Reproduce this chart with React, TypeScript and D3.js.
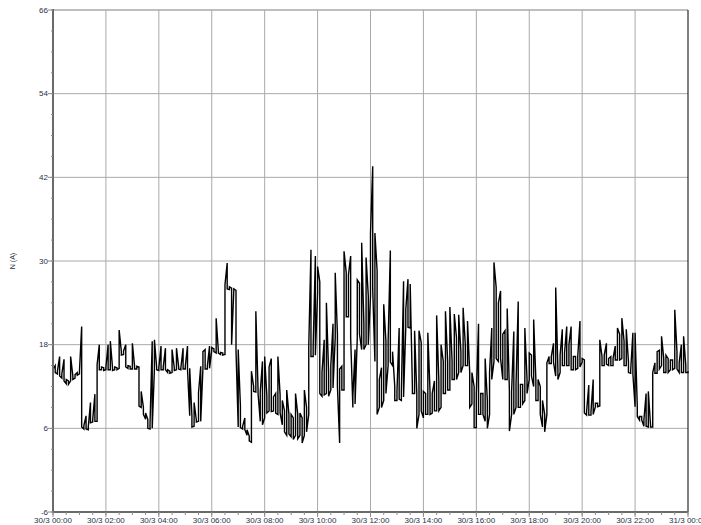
import React from "react";
import * as d3 from "d3";

// N (A): [min, max] read in each 5-minute window, 30/3 00:00 -> 31/3 00:00
const hours00to06: [number, number][] = [
  [13.9, 14.5], [14.0, 15.0], [13.8, 14.2], [13.5, 16.3], [13.2, 13.8], [12.8, 15.9], [12.4, 13.0], [12.3, 12.8], [12.8, 16.3], [13.0, 13.5], [13.2, 13.7], [13.6, 14.0],
  [13.8, 14.2], [6.2, 20.6], [5.9, 6.4], [5.9, 7.8], [5.8, 6.2], [6.8, 9.7], [6.9, 7.2], [7.0, 10.9], [7.0, 15.1], [14.4, 18.0], [14.4, 14.8], [14.3, 14.7],
  [14.4, 14.8], [14.4, 18.0], [14.4, 18.5], [14.3, 14.7], [14.4, 14.8], [14.4, 14.7], [14.6, 20.1], [16.5, 17.0], [16.6, 17.1], [14.8, 18.0], [14.6, 15.0], [14.5, 14.9],
  [14.5, 18.2], [14.5, 14.9], [14.5, 14.9], [9.2, 14.8], [9.0, 11.3], [8.0, 9.0], [7.3, 8.2], [6.0, 7.3], [5.9, 6.6], [6.0, 18.5], [14.5, 18.7], [14.4, 14.8],
  [14.3, 14.7], [14.4, 17.8], [14.4, 14.8], [14.4, 17.5], [14.0, 14.4], [13.9, 14.2], [14.0, 17.3], [14.3, 14.7], [14.4, 17.5], [14.5, 14.8], [14.4, 14.7], [14.5, 17.5],
  [14.5, 14.9], [14.5, 17.8], [7.8, 14.6], [6.2, 7.8], [6.3, 9.7], [6.9, 7.2], [7.0, 11.1], [7.0, 14.9], [14.6, 17.0], [14.5, 17.3], [14.5, 14.9], [14.6, 17.8],
];
const hours06to12: [number, number][] = [
  [17.2, 17.6], [17.0, 17.4], [16.8, 21.8], [16.8, 17.1], [16.6, 16.9], [16.5, 16.8], [16.6, 26.6], [26.0, 29.7], [25.9, 26.3], [18.0, 26.1], [25.8, 26.0], [17.1, 25.8],
  [6.2, 17.3], [6.1, 9.2], [5.9, 6.3], [5.8, 7.5], [5.0, 5.8], [4.2, 4.9], [4.0, 14.2], [11.3, 12.0], [11.2, 22.8], [11.0, 11.5], [7.0, 11.2], [6.5, 15.6],
  [7.5, 16.3], [8.2, 10.6], [8.5, 14.8], [8.4, 16.0], [8.5, 10.5], [8.2, 11.0], [8.0, 16.3], [8.2, 10.8], [6.5, 10.0], [5.5, 8.5], [5.0, 11.5], [5.2, 8.0],
  [4.8, 8.0], [4.4, 7.5], [5.0, 11.0], [4.5, 8.0], [5.0, 8.2], [3.9, 7.5], [5.0, 11.5], [5.5, 9.0], [8.0, 17.8], [16.3, 31.6], [16.3, 17.8], [16.5, 30.7],
  [25.4, 29.2], [11.0, 27.0], [10.6, 14.0], [10.8, 18.7], [11.0, 24.0], [10.6, 14.0], [11.5, 15.0], [11.8, 21.0], [19.0, 28.3], [12.0, 19.5], [3.9, 14.5], [11.5, 14.9],
  [11.5, 31.4], [22.0, 28.3], [22.0, 28.0], [19.0, 30.7], [9.0, 10.6], [9.5, 17.3], [19.0, 27.3], [19.5, 26.8], [17.3, 32.6], [17.3, 21.0], [18.0, 30.5], [18.0, 25.0],
];
const hours12to18: [number, number][] = [
  [25.0, 34.0], [26.0, 43.6], [15.6, 34.0], [8.0, 28.6], [9.0, 13.0], [9.0, 14.7], [10.0, 23.8], [11.0, 18.5], [15.0, 18.5], [15.5, 31.5], [15.0, 17.0], [10.0, 12.0],
  [10.0, 11.3], [10.2, 20.4], [10.0, 11.3], [10.5, 27.1], [20.5, 23.0], [20.5, 27.4], [20.4, 26.7], [11.0, 12.0], [11.0, 20.0], [6.0, 11.0], [8.0, 20.0], [8.5, 18.3],
  [7.5, 11.3], [8.0, 11.0], [8.0, 19.7], [8.0, 11.3], [8.2, 11.0], [8.5, 12.8], [8.5, 22.2], [8.5, 12.8], [9.0, 18.0], [11.0, 15.6], [11.0, 22.8], [11.5, 15.6],
  [11.5, 23.4], [13.0, 15.6], [13.0, 22.4], [13.0, 19.0], [14.0, 22.3], [14.0, 17.0], [15.0, 23.3], [15.0, 18.0], [15.0, 21.4], [9.0, 14.0], [9.5, 14.0], [6.1, 12.0],
  [6.1, 11.0], [8.0, 21.0], [8.0, 11.0], [8.0, 11.0], [7.0, 16.0], [6.0, 10.0], [8.0, 14.0], [13.0, 20.4], [15.6, 29.8], [16.0, 26.2], [15.6, 24.0], [16.0, 25.7],
  [13.0, 19.5], [13.0, 20.0], [13.0, 23.2], [5.6, 11.3], [8.0, 11.3], [8.0, 19.9], [9.0, 12.3], [9.0, 24.2], [9.0, 12.3], [9.5, 12.3], [10.0, 20.4], [11.0, 13.0],
];
const hours18to24: [number, number][] = [
  [13.0, 16.8], [13.5, 16.5], [12.0, 21.6], [10.0, 13.0], [10.0, 13.0], [8.0, 12.0], [6.2, 10.0], [5.5, 8.0], [8.0, 15.4], [15.3, 16.3], [15.3, 16.3], [15.5, 18.2],
  [13.5, 26.2], [13.0, 14.4], [14.0, 16.5], [15.0, 20.2], [15.0, 16.8], [15.0, 20.6], [15.0, 18.0], [14.4, 20.6], [14.4, 16.3], [14.4, 16.3], [14.6, 16.3], [14.8, 21.4],
  [15.5, 16.0], [8.2, 15.8], [7.9, 8.4], [7.9, 12.2], [7.9, 8.4], [8.0, 13.0], [9.1, 9.6], [9.1, 9.6], [9.2, 18.7], [15.0, 16.3], [15.0, 16.5], [15.2, 18.2],
  [15.0, 16.0], [15.0, 16.3], [15.0, 16.0], [15.8, 17.8], [15.8, 20.4], [15.8, 19.5], [16.0, 21.8], [15.0, 18.5], [15.0, 20.2], [14.0, 15.5], [13.9, 14.3], [13.8, 19.7],
  [9.1, 19.7], [7.7, 9.1], [7.2, 7.7], [7.2, 7.7], [6.3, 7.2], [6.3, 11.0], [6.2, 11.3], [6.2, 6.5], [6.2, 14.0], [13.9, 15.4], [13.9, 17.0], [14.5, 17.2],
  [15.0, 19.2], [14.0, 16.0], [14.0, 16.5], [14.0, 16.0], [14.4, 15.8], [14.4, 15.8], [14.6, 23.0], [14.5, 17.0], [14.0, 15.4], [14.0, 18.0], [14.0, 19.2], [14.0, 15.0],
  [14.0, 14.2],
];
const stepMinutes = 5;

const yTicks = [-6, 6, 18, 30, 42, 54, 66];
const xTickLabels = [
  "30/3 00:00", "30/3 02:00", "30/3 04:00", "30/3 06:00", "30/3 08:00",
  "30/3 10:00", "30/3 12:00", "30/3 14:00", "30/3 16:00", "30/3 18:00",
  "30/3 20:00", "30/3 22:00", "31/3 00:00",
];
const yLabel = "N (A)";

const W = 701;
const H = 525;
const L = 53;
const R = 688;
const T = 10;
const B = 512;

export default function App() {
  const windows = [...hours00to06, ...hours06to12, ...hours12to18, ...hours18to24];
  const x = d3.scaleLinear().domain([0, 1440]).range([L, R]);
  const y = d3.scaleLinear().domain([-6, 66]).range([B, T]);
  // each window drawn as a vertical min-max stroke, alternating direction
  const pts: [number, number][] = [];
  windows.forEach(([lo, hi], i) => {
    const t = i * stepMinutes;
    if (i % 2 === 0) {
      pts.push([t, lo], [t, hi]);
    } else {
      pts.push([t, hi], [t, lo]);
    }
  });
  const line = d3
    .line<[number, number]>()
    .x((d) => x(d[0]))
    .y((d) => y(d[1]));
  const majorX = xTickLabels.map((_, i) => i * 120);
  const minorX = d3.range(0, 1441, 30);
  const minorY = d3.range(-6, 67, 3);
  const font = "'Liberation Sans', Arial, sans-serif";
  const textColor = "#2a2f45";
  const grid = "#a9a9a9";
  return (
    <svg
      width={W}
      height={H}
      style={{ position: "absolute", left: 0, top: 0, background: "#fff" }}
    >
      {yTicks.slice(1).map((t) => (
        <line key={"gy" + t} x1={L} x2={R} y1={y(t)} y2={y(t)} stroke={grid} strokeWidth={t === 66 ? 1.6 : 1} />
      ))}
      {majorX.slice(1, -1).map((m) => (
        <line key={"gx" + m} x1={x(m)} x2={x(m)} y1={T} y2={B} stroke={grid} strokeWidth={1} />
      ))}
      <path d={line(pts) || ""} fill="none" stroke="#000" strokeWidth={1.4} strokeLinejoin="miter" />
      <line x1={R} x2={R} y1={T} y2={B} stroke="#000" strokeWidth={1} />
      <line x1={L} x2={L} y1={T - 1} y2={B + 1} stroke="#6a6a6a" strokeWidth={2} />
      <line x1={L} x2={R} y1={B} y2={B} stroke="#6a6a6a" strokeWidth={2} />
      {minorY.map((t) => (
        <line key={"my" + t} x1={L - 2} x2={L} y1={y(t)} y2={y(t)} stroke="#8a8a8a" strokeWidth={1} />
      ))}
      {yTicks.map((t) => (
        <g key={"ty" + t}>
          <line x1={L - 5} x2={L} y1={y(t)} y2={y(t)} stroke="#8a8a8a" strokeWidth={1} />
          <text x={L - 5} y={y(t)} dy="0.35em" textAnchor="end" fontFamily={font} fontSize={8} fill={textColor}>
            {t}
          </text>
        </g>
      ))}
      {minorX.map((m) => (
        <line key={"mx" + m} x1={x(m)} x2={x(m)} y1={B} y2={B + 3} stroke="#8a8a8a" strokeWidth={1} />
      ))}
      {majorX.map((m, i) => (
        <g key={"tx" + m}>
          <line x1={x(m)} x2={x(m)} y1={B} y2={B + 5} stroke="#8a8a8a" strokeWidth={1} />
          <text x={x(m)} y={B + 11} textAnchor="middle" fontFamily={font} fontSize={8} fill={textColor}>
            {xTickLabels[i]}
          </text>
        </g>
      ))}
      <text
        transform={`translate(15, ${(T + B) / 2}) rotate(-90)`}
        textAnchor="middle"
        fontFamily={font}
        fontSize={7}
        fill={textColor}
      >
        {yLabel}
      </text>
    </svg>
  );
}
